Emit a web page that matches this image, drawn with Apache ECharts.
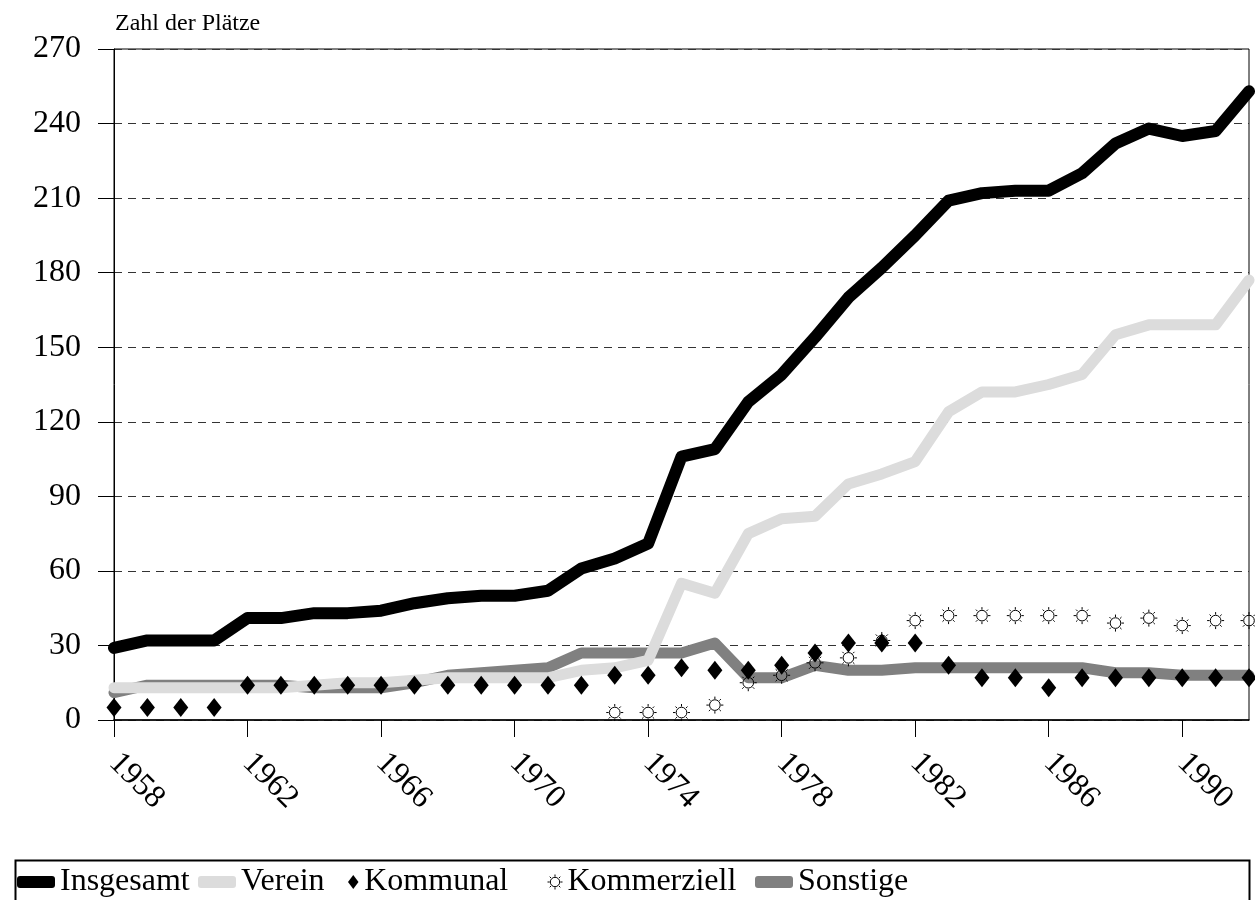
<!DOCTYPE html>
<html>
<head>
<meta charset="utf-8">
<script src="https://cdn.jsdelivr.net/npm/echarts@6/dist/echarts.min.js"></script>
<style>
  html, body { margin: 0; padding: 0; background: #fff; }
  #chart { width: 1255px; height: 900px; }
</style>
</head>
<body>
<div id="chart"></div>
<script>
// years 1958 - 1992
var years = ['1958', '1959', '1960', '1961', '1962', '1963', '1964', '1965', '1966', '1967',
  '1968', '1969', '1970', '1971', '1972', '1973', '1974', '1975', '1976', '1977',
  '1978', '1979', '1980', '1981', '1982', '1983', '1984', '1985', '1986', '1987',
  '1988', '1989', '1990', '1991', '1992']

var insgesamt = [29, 32, 32, 32, 41, 41, 43, 43, 44, 47, 49, 50, 50, 52, 61, 65, 71, 106, 109, 128,
  139, 154, 170, 182, 195, 209, 212, 213, 213, 220, 232, 238, 235, 237, 253]
var verein = [13, 13, 13, 13, 13, 13, 14, 15, 15, 16, 17, 17, 17, 17, 20, 21, 24, 55, 51, 75,
  81, 82, 95, 99, 104, 124, 132, 132, 135, 139, 155, 159, 159, 159, 177]
var kommunal = [5, 5, 5, 5, 14, 14, 14, 14, 14, 14, 14, 14, 14, 14, 14, 18, 18, 21, 20, 20,
  22, 27, 31, 31, 31, 22, 17, 17, 13, 17, 17, 17, 17, 17, 17]
var kommerziell = [null, null, null, null, null, null, null, null, null, null, null, null, null, null, null, 3, 3, 3, 6, 15,
  18, 23, 25, 32, 40, 42, 42, 42, 42, 42, 39, 41, 38, 40, 40]
var sonstige = [11, 14, 14, 14, 14, 14, 13, 13, 13, 15, 18, 19, 20, 21, 27, 27, 27, 27, 31, 17,
  17, 22, 20, 20, 21, 21, 21, 21, 21, 21, 19, 19, 18, 18, 18]

var yTicks = { min: 0, max: 270, interval: 30 }

var serif = '"Liberation Serif", "Times New Roman", serif'
var sunPath = 'path://M19.5,12A7.5,7.5,0,1,1,4.5,12A7.5,7.5,0,1,1,19.5,12Z' +
  'M12,0L12,3.5M12,20.5L12,24M0,12L3.5,12M20.5,12L24,12' +
  'M18.36,5.64L20.49,3.51M5.64,5.64L3.51,3.51M18.36,18.36L20.49,20.49M5.64,18.36L3.51,20.49'
var diamondPath = 'path://M6,0L12,8L6,16L0,8Z'

function legendItem(left, width, height, item) {
  return {
    left: left,
    top: 866,
    padding: 0,
    itemWidth: width,
    itemHeight: height,
    selectedMode: false,
    textStyle: { fontFamily: serif, fontSize: 32, color: '#000' },
    data: [item]
  }
}

var chart = echarts.init(document.getElementById('chart'))
chart.setOption({
  animation: false,
  backgroundColor: '#fff',
  textStyle: { fontFamily: serif },
  title: {
    text: 'Zahl der Plätze',
    left: 115,
    top: 12,
    padding: 0,
    textStyle: { fontFamily: serif, fontSize: 24, fontWeight: 'normal', color: '#000' }
  },
  grid: {
    left: 114,
    right: 6,
    top: 49,
    bottom: 180,
    show: true,
    borderColor: '#000',
    borderWidth: 1
  },
  legend: [
    legendItem(17, 38, 12, { name: 'Insgesamt', icon: 'roundRect', itemStyle: { color: '#000' } }),
    legendItem(198, 38, 12, { name: 'Verein', icon: 'roundRect', itemStyle: { color: '#dcdcdc' } }),
    legendItem(348, 12, 14, { name: 'Kommunal', icon: diamondPath, itemStyle: { color: '#000' } }),
    legendItem(547, 15, 15, { name: 'Kommerziell', icon: sunPath, itemStyle: { color: 'transparent', borderColor: '#000', borderWidth: 1 } }),
    legendItem(755, 38, 12, { name: 'Sonstige', icon: 'roundRect', itemStyle: { color: '#808080' } })
  ],
  graphic: [
    {
      type: 'rect',
      left: 13,
      top: 858,
      shape: { width: 1234, height: 60 },
      style: { fill: 'none', stroke: '#000', lineWidth: 2 },
      z: 0
    }
  ],
  xAxis: {
    type: 'category',
    data: years,
    boundaryGap: false,
    axisLine: { lineStyle: { color: '#000', width: 1.5 } },
    axisTick: { interval: 3, length: 17, lineStyle: { color: '#000' } },
    axisLabel: {
      interval: 3,
      rotate: -45,
      margin: 38,
      fontFamily: serif,
      fontSize: 32,
      color: '#000'
    },
    splitLine: { show: false }
  },
  yAxis: {
    type: 'value',
    min: yTicks.min,
    max: yTicks.max,
    interval: yTicks.interval,
    axisLine: { show: true, lineStyle: { color: '#000' } },
    axisTick: { show: true, length: 16, lineStyle: { color: '#000' } },
    axisLabel: { margin: 33, fontFamily: serif, fontSize: 32, color: '#000' },
    splitLine: { lineStyle: { color: '#333', type: [8, 6], width: 1 } }
  },
  series: [
    {
      name: 'Insgesamt',
      type: 'line',
      data: insgesamt,
      symbol: 'none',
      z: 4,
      lineStyle: { color: '#000', width: 12, cap: 'round', join: 'round' },
      itemStyle: { color: '#000' }
    },
    {
      name: 'Verein',
      type: 'line',
      data: verein,
      symbol: 'none',
      z: 3,
      lineStyle: { color: '#dcdcdc', width: 11, cap: 'round', join: 'round' },
      itemStyle: { color: '#dcdcdc' }
    },
    {
      name: 'Kommunal',
      type: 'scatter',
      data: kommunal,
      symbol: 'diamond',
      symbolSize: [15, 19],
      z: 5,
      itemStyle: { color: '#000', opacity: 1 }
    },
    {
      name: 'Kommerziell',
      type: 'scatter',
      data: kommerziell,
      symbol: sunPath,
      symbolSize: 17,
      z: 6,
      itemStyle: { color: 'transparent', borderColor: '#000', borderWidth: 1, opacity: 1 }
    },
    {
      name: 'Sonstige',
      type: 'line',
      data: sonstige,
      symbol: 'none',
      z: 2,
      lineStyle: { color: '#808080', width: 11, cap: 'round', join: 'round' },
      itemStyle: { color: '#808080' }
    }
  ]
})
</script>
</body>
</html>
